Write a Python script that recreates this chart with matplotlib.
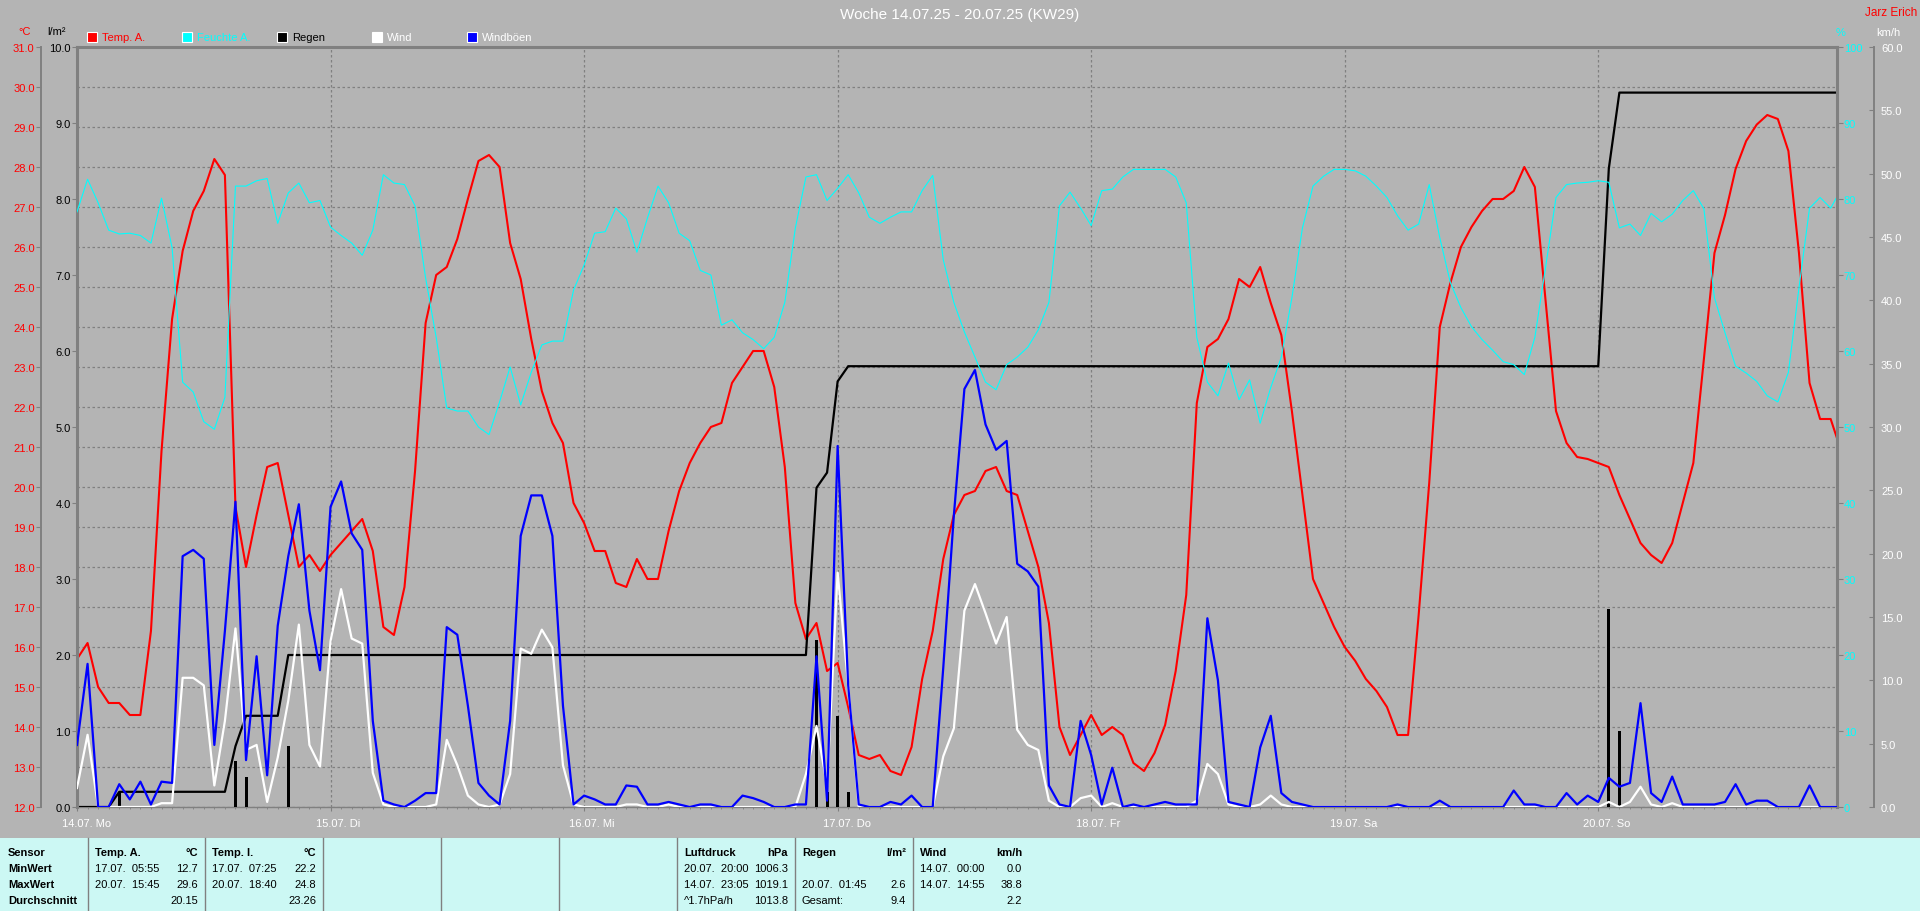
import numpy as np
import matplotlib
matplotlib.use("Agg")
import matplotlib.pyplot as plt
from matplotlib.patches import Rectangle
from matplotlib.lines import Line2D
from matplotlib.transforms import ScaledTranslation

plt.rcParams['font.family'] = ['Liberation Sans', 'DejaVu Sans']

# hourly values, 14.07. 00:00 = hour 0
temp = [15.7, 16.1, 15.0, 14.6, 14.6, 14.3, 14.3, 16.4, 20.9, 24.2,
        25.9, 26.9, 27.4, 28.2, 27.8, 19.5, 18.0, 19.3, 20.5, 20.6,
        19.3, 18.0, 18.3, 17.9, 18.3, 18.6, 18.9, 19.2, 18.4, 16.5,
        16.3, 17.5, 20.4, 24.1, 25.3, 25.5, 26.2, 27.2, 28.15, 28.3,
        28.0, 26.1, 25.2, 23.7, 22.4, 21.6, 21.1, 19.6, 19.1, 18.4,
        18.4, 17.6, 17.5, 18.2, 17.7, 17.7, 18.9, 19.9, 20.6, 21.1,
        21.5, 21.6, 22.6, 23.0, 23.4, 23.4, 22.5, 20.5, 17.1, 16.2,
        16.6, 15.4, 15.6, 14.5, 13.3, 13.2, 13.3, 12.9, 12.8, 13.5,
        15.2, 16.4, 18.2, 19.3, 19.8, 19.9, 20.4, 20.5, 19.9, 19.8,
        18.9, 18.0, 16.6, 14.0, 13.3, 13.8, 14.3, 13.8, 14.0, 13.8,
        13.1, 12.9, 13.35, 14.05, 15.4, 17.3, 22.1, 23.5, 23.7, 24.2,
        25.2, 25.0, 25.5, 24.6, 23.8, 21.9, 19.8, 17.7, 17.1, 16.5,
        16.0, 15.65, 15.2, 14.9, 14.5, 13.8, 13.8, 16.8, 20.1, 24.0,
        25.1, 26.0, 26.5, 26.9, 27.2, 27.2, 27.4, 28.0, 27.5, 24.7,
        21.9, 21.1, 20.75, 20.7, 20.6, 20.5, 19.8, 19.2, 18.6, 18.3,
        18.1, 18.6, 19.6, 20.6, 23.2, 25.85, 26.8, 27.95, 28.65, 29.06,
        29.3, 29.2, 28.4, 25.85, 22.6, 21.7, 21.7, 20.9]

humidity = [78.3, 82.6, 79.5, 75.9, 75.4, 75.5, 75.2, 74.2, 80.1, 73.6,
            55.9, 54.6, 50.7, 49.7, 53.9, 81.7, 81.7, 82.4, 82.7, 76.8,
            80.8, 82.1, 79.5, 79.8, 76.3, 75.2, 74.2, 72.6, 75.9, 83.2,
            82.1, 81.9, 79.1, 69.6, 61.8, 52.5, 52.1, 52.1, 50.0, 49.0,
            53.3, 57.9, 52.9, 57.2, 60.8, 61.3, 61.3, 68.0, 71.3, 75.5,
            75.7, 78.8, 77.4, 73.0, 77.5, 81.7, 79.5, 75.5, 74.5, 70.6,
            70.0, 63.4, 64.1, 62.4, 61.5, 60.3, 61.8, 66.4, 76.2, 82.9,
            83.2, 79.8, 81.4, 83.2, 80.8, 77.6, 76.8, 77.6, 78.3, 78.3,
            81.1, 83.1, 72.0, 66.4, 62.5, 59.2, 55.9, 54.9, 58.2, 59.2,
            60.5, 62.8, 66.4, 79.1, 80.9, 78.8, 76.5, 81.1, 81.3, 82.9,
            83.9, 83.9, 83.9, 83.9, 82.9, 79.5, 61.8, 55.9, 54.1, 58.4,
            53.6, 56.2, 50.5, 55.2, 59.2, 67.0, 76.2, 81.7, 83.0, 83.9,
            83.9, 83.7, 83.0, 81.7, 80.2, 77.8, 75.9, 76.7, 81.9, 74.9,
            69.0, 65.7, 63.2, 61.5, 60.1, 58.6, 58.2, 56.9, 61.8, 70.9,
            80.2, 81.9, 82.1, 82.2, 82.4, 82.2, 76.2, 76.7, 75.2, 78.1,
            77.0, 78.0, 79.8, 81.1, 78.7, 67.0, 62.4, 58.0, 57.1, 56.0,
            54.1, 53.3, 57.2, 68.3, 78.8, 80.2, 78.8, 81.3]

wind = [1.5, 5.7, 0, 0, 0, 0, 0, 0, 0.3, 0.3,
        10.2, 10.2, 9.6, 1.7, 6.8, 14.1, 4.5, 4.9, 0.4, 3.9,
        8.4, 14.4, 4.9, 3.2, 13.1, 17.2, 13.3, 12.9, 2.7, 0.2,
        0, 0, 0, 0, 0.2, 5.3, 3.3, 0.9, 0.2, 0,
        0.2, 2.6, 12.5, 12.1, 14.0, 12.6, 3.3, 0.2, 0, 0,
        0, 0, 0.2, 0.2, 0, 0, 0.2, 0, 0, 0,
        0, 0, 0, 0, 0, 0, 0, 0, 0, 2.6,
        6.4, 1.7, 18.5, 9.6, 0, 0, 0, 0, 0, 0,
        0, 0, 4.0, 6.2, 15.5, 17.6, 15.3, 12.9, 15.0, 6.1,
        4.9, 4.5, 0.5, 0, 0, 0.7, 0.9, 0, 0.3, 0,
        0, 0, 0, 0, 0, 0, 0.5, 3.4, 2.6, 0.2,
        0, 0, 0.2, 0.9, 0.2, 0, 0, 0, 0, 0,
        0, 0, 0, 0, 0, 0, 0, 0, 0, 0,
        0, 0, 0, 0, 0, 0, 0, 0, 0, 0,
        0, 0, 0, 0, 0, 0.4, 0, 0.4, 1.6, 0.2,
        0, 0.3, 0, 0, 0, 0, 0, 0, 0, 0,
        0, 0, 0, 0, 0, 0, 0, 0]

gusts = [4.9, 11.3, 0, 0, 1.8, 0.6, 2.0, 0.2, 2.0, 1.9,
         19.8, 20.3, 19.6, 4.9, 13.9, 24.1, 3.7, 11.9, 2.5, 14.3,
         19.8, 23.9, 15.5, 10.8, 23.7, 25.7, 21.6, 20.3, 6.8, 0.5,
         0.2, 0, 0.5, 1.1, 1.1, 14.2, 13.6, 8.0, 1.9, 0.9,
         0.2, 6.8, 21.4, 24.6, 24.6, 21.4, 8.0, 0.2, 0.9, 0.6,
         0.2, 0.2, 1.7, 1.6, 0.2, 0.2, 0.4, 0.2, 0, 0.2,
         0.2, 0, 0, 0.9, 0.7, 0.4, 0, 0, 0.2, 0.2,
         11.9, 0.5, 28.5, 9.6, 0.2, 0, 0, 0.4, 0.2, 0.9,
         0, 0, 11.0, 23.0, 33.0, 34.5, 30.2, 28.2, 28.9, 19.2,
         18.6, 17.4, 1.7, 0.2, 0, 6.8, 4.1, 0.2, 3.1, 0,
         0.2, 0, 0.2, 0.4, 0.2, 0.2, 0.2, 14.9, 10.0, 0.4,
         0.2, 0, 4.7, 7.2, 1.1, 0.4, 0.2, 0, 0, 0,
         0, 0, 0, 0, 0, 0.2, 0, 0, 0, 0.5,
         0, 0, 0, 0, 0, 0, 1.3, 0.2, 0.2, 0,
         0, 1.1, 0.2, 0.9, 0.4, 2.3, 1.6, 1.9, 8.2, 1.1,
         0.4, 2.4, 0.2, 0.2, 0.2, 0.2, 0.4, 1.8, 0.2, 0.5,
         0.5, 0, 0, 0, 1.7, 0, 0, 0]

rain_hours = [4, 15, 16, 20, 70, 71, 72, 73, 145, 146]
rain_mm = [0.2, 0.6, 0.4, 0.8, 2.2, 0.2, 1.2, 0.2, 2.6, 1.0]

day_labels = ['14.07. Mo', '15.07. Di', '16.07. Mi', '17.07. Do',
              '18.07. Fr', '19.07. Sa', '20.07. So']

legend_names = ['Temp. A.', 'Feuchte A.', 'Regen', 'Wind', 'Windböen']
legend_colors = ['#ff0000', '#00ffff', '#000000', '#ffffff', '#0000ff']
legend_text_colors = ['#ff0000', '#00ffff', '#000000', '#ffffff', '#ffffff']

# summary table at the bottom: (header, unit, rows of (left, right))
table_cols = [
    ('Temp. A.', '°C', [('17.07.  05:55', '12.7'), ('20.07.  15:45', '29.6'), ('', '20.15')]),
    ('Temp. I.', '°C', [('17.07.  07:25', '22.2'), ('20.07.  18:40', '24.8'), ('', '23.26')]),
    None, None, None,
    ('Luftdruck', 'hPa', [('20.07.  20:00', '1006.3'), ('14.07.  23:05', '1019.1'), ('^1.7hPa/h', '1013.8')]),
    ('Regen', 'l/m²', [('', ''), ('20.07.  01:45', '2.6'), ('Gesamt:', '9.4')]),
    ('Wind', 'km/h', [('14.07.  00:00', '0.0'), ('14.07.  14:55', '38.8'), ('', '2.2')]),
]
row_names = ['Sensor', 'MinWert', 'MaxWert', 'Durchschnitt']

W, H = 1920, 912
BG = '#b4b4b4'
GRIDC = '#808080'
PT = 0.72  # points per pixel at 100 dpi

hours = np.arange(len(temp))
rain_hourly = np.zeros(len(temp))
rain_hourly[rain_hours] = rain_mm
rain_total = np.cumsum(rain_hourly)


def ftext(x, y, s, **kw):
    fig.text(x / W, 1 - y / H, s, va='center', **kw)


fig = plt.figure(figsize=(19.2, 9.12), dpi=100, facecolor=BG)

ax = fig.add_axes([77 / W, (H - 808) / H, 1760 / W, 760 / H])
ax.set_facecolor(BG)
ax_r = ax.twinx()
ax_h = ax.twinx()
ax_w = ax.twinx()

# temperature (main axis, outer left scale)
ax.set_xlim(0, 166.6)
ax.set_ylim(12, 31)
t_ticks = np.arange(12, 32, 1)
ax.set_yticks(t_ticks)
ax.set_yticklabels([f'{v:.1f}' for v in t_ticks])
ax.yaxis.tick_left()
ax.spines['left'].set_position(('outward', 36 * PT))
ax.spines['left'].set_color(GRIDC)
ax.spines['left'].set_linewidth(1.4)
ax.spines['right'].set_visible(False)
ax.spines['top'].set_color(GRIDC)
ax.spines['top'].set_linewidth(2.2)
ax.spines['bottom'].set_color(GRIDC)
ax.spines['bottom'].set_linewidth(1.0)
ax.tick_params(axis='y', colors=GRIDC, labelcolor='#ff0000', length=5 * PT, pad=1, labelsize=8)

ax.set_xticks(np.arange(0, 168, 24))
ax.set_xticklabels(day_labels)
ax.set_xticks(np.arange(0, 167, 1), minor=True)
ax.tick_params(axis='x', which='major', colors=GRIDC, labelcolor='white', length=3, pad=5, labelsize=8)
ax.tick_params(axis='x', which='minor', colors=GRIDC, length=1.5)
shift = ScaledTranslation(-15 / 100, 0, fig.dpi_scale_trans)
for lbl in ax.get_xticklabels():
    lbl.set_horizontalalignment('left')
    lbl.set_transform(lbl.get_transform() + shift)
ax.grid(True, which='major', color=GRIDC, linestyle=(0, (2, 2)), linewidth=0.9)
ax.set_axisbelow(True)

ax.plot(hours, temp, color='#ff0000', lw=1.5)

# rain (inner left scale)
ax_r.set_ylim(0, 10)
r_ticks = np.arange(0, 11, 1)
ax_r.set_yticks(r_ticks)
ax_r.set_yticklabels([f'{v:.1f}' for v in r_ticks])
ax_r.yaxis.tick_left()
for s in ['right', 'top', 'bottom']:
    ax_r.spines[s].set_visible(False)
ax_r.spines['left'].set_color(GRIDC)
ax_r.spines['left'].set_linewidth(2.2)
ax_r.tick_params(axis='y', colors=GRIDC, labelcolor='black', length=5 * PT, pad=1, labelsize=8)

# humidity (inner right scale)
ax_h.set_ylim(0, 100)
h_ticks = np.arange(0, 101, 10)
ax_h.set_yticks(h_ticks)
ax_h.set_yticklabels([str(v) for v in h_ticks])
for s in ['left', 'top', 'bottom']:
    ax_h.spines[s].set_visible(False)
ax_h.spines['right'].set_color(GRIDC)
ax_h.spines['right'].set_linewidth(2.2)
ax_h.tick_params(axis='y', colors=GRIDC, labelcolor='#00ffff', length=6 * PT, pad=0.5, labelsize=8)

ax_h.plot(hours, humidity, color='#00ffff', lw=0.8)

ax_r.bar(rain_hours, rain_mm, width=0.28, color='black')
ax_r.plot(hours, rain_total, color='black', lw=1.6)

# wind (outer right scale)
ax_w.set_ylim(0, 60)
w_ticks = np.arange(0, 61, 5)
ax_w.set_yticks(w_ticks)
ax_w.set_yticklabels([f'{v:.1f}' for v in w_ticks])
for s in ['left', 'top', 'bottom']:
    ax_w.spines[s].set_visible(False)
ax_w.spines['right'].set_position(('outward', 37 * PT))
ax_w.spines['right'].set_color(GRIDC)
ax_w.spines['right'].set_linewidth(1.4)
ax_w.tick_params(axis='y', direction='in', colors=GRIDC, labelcolor='white', length=5 * PT, pad=5, labelsize=8)

ax_w.plot(hours, wind, color='white', lw=1.6)
ax_w.plot(hours, gusts, color='#0000ff', lw=1.6)

# header texts
ftext(960, 15, 'Woche 14.07.25 - 20.07.25 (KW29)', color='white', fontsize=11, ha='center')
ftext(1917, 13, 'Jarz Erich', color='#ff0000', fontsize=8.5, ha='right')
ftext(25, 32, '°C', color='#ff0000', fontsize=8, ha='center')
ftext(57, 32, 'l/m²', color='black', fontsize=8, ha='center')
ftext(1841, 33, '%', color='#00ffff', fontsize=8, ha='center')
ftext(1888, 33, 'km/h', color='white', fontsize=8, ha='center')

for i, name in enumerate(legend_names):
    x0 = 87 + 95 * i
    fig.add_artist(Rectangle((x0 / W, 1 - 43 / H), 10 / W, 10 / H, transform=fig.transFigure,
                             facecolor=legend_colors[i], edgecolor='white', lw=0.8))
    ftext(x0 + 15, 38, name, color=legend_text_colors[i], fontsize=8, ha='left')

# table
fig.add_artist(Rectangle((0, 0), 1, 73 / H, transform=fig.transFigure,
                         facecolor='#ccf8f4', edgecolor='none'))
col_x = [88, 205, 323, 441, 559, 677, 795, 913]
for x in col_x:
    fig.add_artist(Line2D([x / W, x / W], [0, 73 / H], transform=fig.transFigure, color=GRIDC, lw=1))

row_y = [853, 869, 885, 901]
for j, name in enumerate(row_names):
    ftext(8, row_y[j], name, color='black', fontsize=8, fontweight='bold', ha='left')

for i, col in enumerate(table_cols):
    if col is None:
        continue
    left = col_x[i] + 7
    right = col_x[i + 1] - 7 if i + 1 < len(col_x) else col_x[i] + 109
    head, unit, rows = col
    ftext(left, row_y[0], head, color='black', fontsize=8, fontweight='bold', ha='left')
    ftext(right, row_y[0], unit, color='black', fontsize=8, fontweight='bold', ha='right')
    for j, (a, b) in enumerate(rows):
        ftext(left, row_y[j + 1], a, color='black', fontsize=8, ha='left')
        ftext(right, row_y[j + 1], b, color='black', fontsize=8, ha='right')

fig.savefig('out.png', dpi=100, facecolor=BG)
